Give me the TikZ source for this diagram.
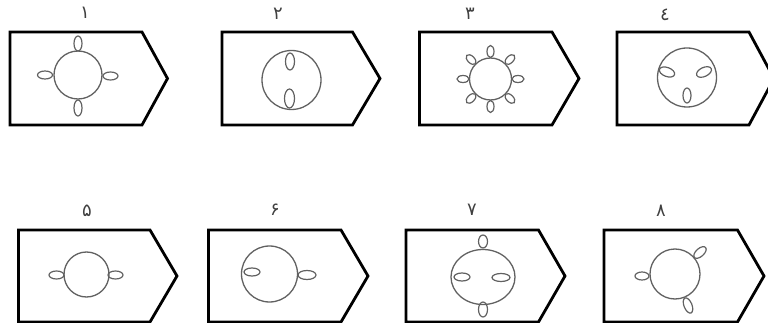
\documentclass[tikz,border=0pt]{standalone}
\usepackage{fontspec}
\newfontfamily\arabicfont[Script=Arabic]{DejaVu Sans}
\colorlet{ringgray}{black!62}
\tikzset{
  tagshape/.style={draw=black, line width=2.8pt, line join=miter},
  ring/.style={draw=ringgray, line width=1.3pt},
  lobe/.style={draw=ringgray, line width=1.2pt},
  numlabel/.style={font=\arabicfont\fontsize{18}{18}\selectfont, text=black!75, inner sep=0pt}
}
% #1 left, #2 top, #3 corner x, #4 tip x, #5 tip y, #6 bottom
\newcommand\mytag[6]{\draw[tagshape] (#1,#2) -- (#3,#2) -- (#4,#5) -- (#3,#6) -- (#1,#6) -- cycle;}
% #1 x, #2 y, #3 angle, #4 a, #5 b
\newcommand\mylobe[5]{\begin{scope}[shift={(#1,#2)},rotate=#3]\draw[lobe] (0,0) ellipse[x radius=#4pt,y radius=#5pt];\end{scope}}
\begin{document}
\begin{tikzpicture}[x=1pt,y=-1pt]
\useasboundingbox (0,0) rectangle (768,323);
% ---- top row ----
\mytag{10}{32}{142}{167.5}{78.5}{125}
\mytag{222}{32}{352.5}{380}{78.5}{125}
\mytag{419.5}{32}{552}{579}{78.5}{125}
\mytag{617}{32}{749}{774}{78.5}{125}
% ---- bottom row ----
\mytag{18.5}{230}{150}{177}{276}{322}
\mytag{208.5}{230}{341}{368}{276}{322}
\mytag{406}{230}{538.5}{565}{276}{322}
\mytag{604}{230}{737.5}{764}{276}{322}
% labels
\node[numlabel] (l1) at (85,13) {١};
\node[numlabel] (l2) at (278,14) {٢};
\node[numlabel] (l3) at (470,14) {٣};
\node[numlabel] (l4) at (665,15) {٤};
\node[numlabel] (l5) at (87,210.5) {۵};
\node[numlabel] (l6) at (275,210) {۶};
\node[numlabel] (l7) at (472,210) {٧};
\node[numlabel] (l8) at (661,211) {٨};
% 1
\draw[ring] (78,75) circle[radius=24pt];
\mylobe{78}{43.5}{90}{7.5}{4}
\mylobe{45}{75}{0}{7.5}{4}
\mylobe{110.5}{76}{0}{7.5}{4}
\mylobe{78}{108}{90}{8}{4}
% 2
\draw[ring] (291.5,80) circle[radius=29.5pt];
\mylobe{290}{61.5}{90}{8.5}{4.5}
\mylobe{289.5}{98.5}{90}{9.5}{5}
% 3
\draw[ring] (490.5,79) circle[radius=21pt];
\foreach \t in {0,45,...,315}{
  \mylobe{{490.5+27.5*cos(\t)}}{{79-27.5*sin(\t)}}{\t}{6}{3.5}
}
% 4
\draw[ring] (687,77.5) circle[radius=29.5pt];
\mylobe{667}{72}{160}{8}{4.5}
\mylobe{704}{72}{25}{8}{4.5}
\mylobe{687}{95.5}{90}{7.5}{4}
% 5
\draw[ring] (86.5,274.5) circle[radius=22.5pt];
\mylobe{56.5}{275}{0}{7.5}{4}
\mylobe{115.5}{275}{0}{7.5}{4}
% 6
\draw[ring] (269.5,274) circle[radius=28pt];
\mylobe{252}{272}{0}{8}{4}
\mylobe{307}{275}{0}{9}{4.5}
% 7
\draw[ring] (483,277) ellipse[x radius=32pt,y radius=27.5pt];
\mylobe{483}{241.5}{90}{6.5}{4.5}
\mylobe{483}{309.5}{90}{7.5}{4.5}
\mylobe{462}{277}{0}{8}{4}
\mylobe{501}{277.5}{0}{9}{4}
% 8
\draw[ring] (675,274) circle[radius=25pt];
\mylobe{642}{276}{0}{7}{4}
\mylobe{700}{252.5}{42}{7.5}{4}
\mylobe{688}{305.5}{-68}{8}{4}
\end{tikzpicture}
\end{document}
